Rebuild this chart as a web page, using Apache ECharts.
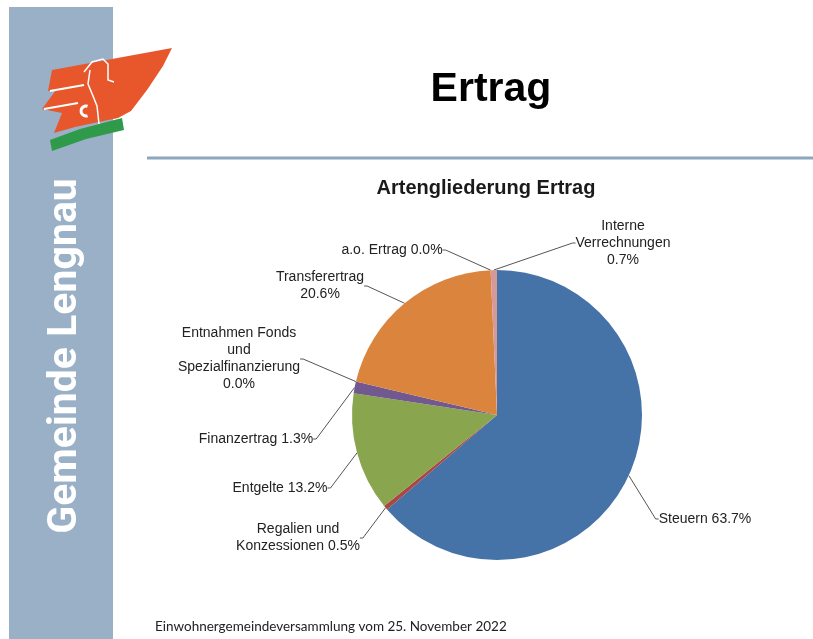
<!DOCTYPE html>
<html>
<head>
<meta charset="utf-8">
<title>Ertrag</title>
<script src="https://cdn.jsdelivr.net/npm/echarts@6/dist/echarts.min.js"></script>
<style>
  html, body { margin: 0; padding: 0; background: #fff; }
  #ertrag { width: 813px; height: 639px; }
</style>
</head>
<body>
<div id="ertrag"></div>
<script>
// Artengliederung Ertrag, Anteile in %
const kategorien = ['Steuern', 'Regalien und\nKonzessionen', 'Entgelte', 'Finanzertrag',
    'Entnahmen Fonds\nund\nSpezialfinanzierung', 'Transferertrag', 'a.o. Ertrag', 'Interne\nVerrechnungen'];
const anteile = [63.7, 0.5, 13.2, 1.3, 0.0, 20.6, 0.0, 0.7];
const farben = ['#4572a7', '#aa4643', '#89a54e', '#71588f', '#4198af', '#db843d', '#93a9cf', '#d49a9a'];
// Prozentwert auf eigener Zeile?
const prozentNeueZeile = [false, false, false, false, true, true, false, true];

let chart = echarts.init(document.getElementById('ertrag'));

// wo die Beschriftungen stehen (Mittelpunkt Text)
const labelOrte = [[705, 519], [298, 538], [280, 488], [256, 439], [239, 359], [320, 286], [392, 250], [623, 243]];

let option = {
    animation: false,
    backgroundColor: '#ffffff',
    title: [{
        text: 'Ertrag',
        left: 491,
        top: 69,
        padding: 0,
        textAlign: 'center',
        textStyle: { fontFamily: 'Liberation Sans', fontSize: 41, fontWeight: 'bold', color: '#000' }
    }, {
        text: 'Artengliederung Ertrag',
        left: 486,
        top: 178,
        padding: 0,
        textAlign: 'center',
        textStyle: { fontFamily: 'Liberation Sans', fontSize: 20, fontWeight: 'bold', color: '#1a1a1a' }
    }],
    graphic: [
        // Seitenleiste
        { type: 'rect', shape: { x: 9, y: 7, width: 104, height: 640 }, style: { fill: '#9ab0c7' }, silent: true },
        {
            type: 'text', x: 66, y: 356, rotation: Math.PI / 2, silent: true,
            style: {
                text: 'Gemeinde Lengnau', font: 'bold 41px Roboto', fill: '#ffffff',
                align: 'center', verticalAlign: 'middle',
                shadowColor: 'rgba(60,80,100,0.35)', shadowBlur: 3, shadowOffsetX: 2, shadowOffsetY: 0
            }
        },
        // Logo
        {
            type: 'polygon', silent: true,
            shape: { points: [[52, 70], [172, 48], [163, 66], [147, 90], [131, 111], [118, 118], [75, 127], [54, 133], [62, 113], [42, 109], [56, 90], [48, 91]] },
            style: { fill: '#e8572b' }
        },
        { type: 'line', silent: true, shape: { x1: 50, y1: 91, x2: 84, y2: 85 }, style: { stroke: '#ffffff', lineWidth: 2 } },
        { type: 'line', silent: true, shape: { x1: 44, y1: 109, x2: 78, y2: 103 }, style: { stroke: '#ffffff', lineWidth: 2 } },
        {
            type: 'polygon', silent: true,
            shape: { points: [[50, 140], [80, 129], [122, 118], [124, 130], [86, 139], [52, 151]] },
            style: { fill: '#2e9a4a' }
        },
        {
            type: 'polyline', silent: true,
            shape: { points: [[84, 72], [92, 62], [103, 59], [108, 64], [108, 80], [114, 82]] },
            style: { stroke: '#ffffff', lineWidth: 1.5, fill: null }
        },
        {
            type: 'polyline', silent: true,
            shape: { points: [[90, 70], [88, 84], [93, 96], [97, 106], [99, 124]] },
            style: { stroke: '#ffffff', lineWidth: 1.5, fill: null }
        },
        {
            type: 'arc', silent: true,
            shape: { cx: 86, cy: 111, r: 5, startAngle: Math.PI * 0.4, endAngle: Math.PI * 1.6, clockwise: true },
            style: { stroke: '#ffffff', lineWidth: 3, fill: null }
        },
        // Trennlinie
        { type: 'line', silent: true, shape: { x1: 147, y1: 158, x2: 813, y2: 158 }, style: { stroke: '#8ea7c0', lineWidth: 3 } },
        // Fusszeile
        {
            type: 'text', x: 155, y: 627, silent: true,
            style: { text: 'Einwohnergemeindeversammlung vom 25. November 2022', font: '13.5px Lato', fill: '#222', verticalAlign: 'middle' }
        }
    ],
    series: [{
        type: 'pie',
        center: [497, 415],
        radius: 145,
        startAngle: 90,
        clockwise: true,
        avoidLabelOverlap: false,
        emphasis: { disabled: true },
        itemStyle: { borderWidth: 0 },
        label: {
            show: true,
            fontFamily: 'Liberation Sans',
            fontSize: 14,
            lineHeight: 17,
            color: '#222',
            formatter: params => {
                let sep = prozentNeueZeile[params.dataIndex] ? '\n' : ' ';
                return params.name + sep + params.value.toFixed(1) + '%';
            }
        },
        labelLine: {
            show: true,
            length: 10,
            length2: 3,
            lineStyle: { color: '#555', width: 1 }
        },
        labelLayout: params => {
            let p = labelOrte[params.dataIndex];
            return { x: p[0], y: p[1], align: 'center', verticalAlign: 'middle' };
        },
        data: kategorien.map((name, i) => ({
            name: name,
            value: anteile[i],
            itemStyle: { color: farben[i] }
        }))
    }]
};

chart.setOption(option);
</script>
</body>
</html>
